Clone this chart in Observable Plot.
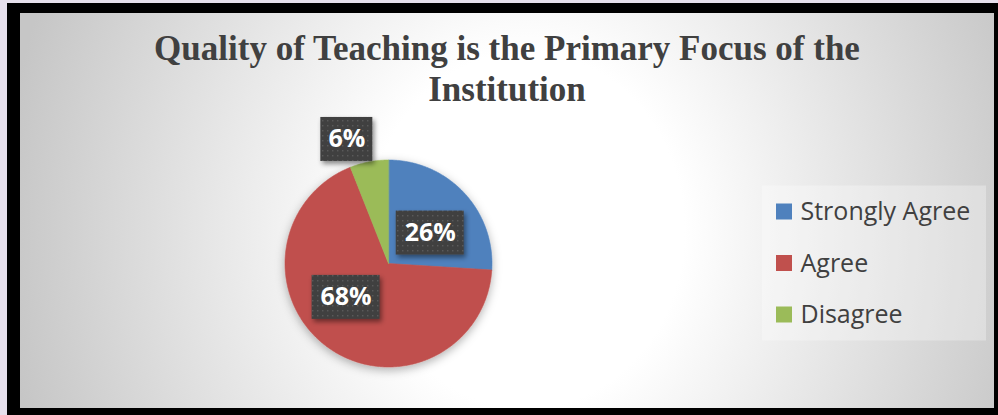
<!DOCTYPE html>
<html>
<head>
<meta charset="utf-8">
<script src="https://cdn.jsdelivr.net/npm/d3@7"></script>
<script src="https://cdn.jsdelivr.net/npm/@observablehq/plot@0.6"></script>
<style>
  html, body { margin: 0; padding: 0; width: 998px; height: 415px; overflow: hidden; background: #e6e0ec; }
  #frame { position: absolute; left: 7px; top: 3px; width: 991px; height: 412px; background: #000; }
  #inner { position: absolute; left: 20px; top: 13px; width: 974px; height: 395px;
    background: radial-gradient(ellipse 54% 150% at 52% 55%, #ffffff 0%, #ffffff 30%, #c6c6c6 100%); }
  #title { height: 80px; padding-top: 15px; font-family: "Liberation Serif", "Times New Roman", serif; font-weight: bold;
    font-size: 35px; line-height: 41px; color: #404040; text-align: center; white-space: nowrap; }
  #chart svg { display: block; }
</style>
</head>
<body>
<div id="frame"></div>
<div id="inner">
  <div id="title">Quality of Teaching is the Primary Focus of the<br>Institution</div>
  <div id="chart"></div>
</div>
<script>
// ---- data ----
const categories = ["Strongly Agree", "Agree", "Disagree"];
const values = [26, 68, 6];
const colors = ["#4f81bd", "#c0504d", "#9bbb59"];

// ---- layout ----
const W = 974, H = 300;
const cx = 368, cy = 155, R = 103.5;
const legendX = 756, legendRowGap = 51.5, legendSquare = 16;

const data = categories.map((c, i) => ({cat: c, value: values[i]}));
const arcs = d3.pie().sort(null).value(d => d.value)(data);

// polygon outline for each slice (geometry for the wedge shape)
const wedgePts = [];
for (const a of arcs) {
  wedgePts.push({cat: a.data.cat, x: cx, y: cy});
  const n = Math.max(2, Math.ceil((a.endAngle - a.startAngle) / (Math.PI / 360)));
  for (let k = 0; k <= n; k++) {
    const t = a.startAngle + (a.endAngle - a.startAngle) * k / n;
    wedgePts.push({cat: a.data.cat, x: cx + R * Math.sin(t), y: cy - R * Math.cos(t)});
  }
}

// label placement (Office "best fit": small slices go outside)
const placement = [
  {k: 0.5, dx: 4, dy: 5},
  {k: 0.5, dx: -12, dy: -8},
  {k: 1.22, dx: -18, dy: 0}
];
const labels = arcs.map((a, i) => {
  const mid = (a.startAngle + a.endAngle) / 2;
  const p = placement[i];
  const x = cx + p.k * R * Math.sin(mid) + p.dx;
  const y = cy - p.k * R * Math.cos(mid) + p.dy;
  const text = a.data.value + "%";
  const w = 20 + 16 * text.length, h = 44;
  return {x, y, text, x1: x - w / 2, x2: x + w / 2, y1: y - h / 2, y2: y + h / 2};
});

const legend = categories.map((c, i) => {
  const y = cy + (i - (categories.length - 1) / 2) * legendRowGap;
  return {cat: c, y, x1: legendX, x2: legendX + legendSquare, y1: y - legendSquare / 2, y2: y + legendSquare / 2};
});
const legendBox = [{x1: 742, x2: 966, y1: legend[0].y - 26, y2: legend[legend.length - 1].y + 26}];

const plot = Plot.plot({
  width: W, height: H,
  margin: 0,
  x: {domain: [0, W], range: [0, W], axis: null},
  y: {domain: [0, H], range: [0, H], axis: null},
  color: {domain: categories, range: colors},
  style: {background: "transparent", overflow: "visible"},
  marks: [
    Plot.line(wedgePts, {x: "x", y: "y", z: "cat", fill: "cat", stroke: "cat", strokeWidth: 0.6, curve: "linear-closed"}),
    Plot.rect(labels, {x1: "x1", x2: "x2", y1: "y1", y2: "y2", fill: "url(#dots)"}),
    Plot.text(labels, {x: "x", y: "y", text: "text", fill: "white", fontWeight: "bold", fontSize: 25,
      fontFamily: "Open Sans"}),
    Plot.rect(legendBox, {x1: "x1", x2: "x2", y1: "y1", y2: "y2", fill: "white", fillOpacity: 0.3}),
    Plot.rect(legend, {x1: "x1", x2: "x2", y1: "y1", y2: "y2", fill: "cat"}),
    Plot.text(legend, {x: legendX + legendSquare + 8, y: "y", text: "cat", textAnchor: "start", fill: "#404040",
      fontSize: 25, fontFamily: "Open Sans"})
  ]
});

document.getElementById("chart").appendChild(plot);

// defs: dotted pattern and shadows
const svg = d3.select(plot);
const defs = svg.insert("defs", ":first-child");
const pat = defs.append("pattern").attr("id", "dots").attr("patternUnits", "userSpaceOnUse")
  .attr("width", 5).attr("height", 5);
pat.append("rect").attr("width", 5).attr("height", 5).attr("fill", "#404040");
pat.append("rect").attr("x", 2).attr("y", 2).attr("width", 1.4).attr("height", 1.4).attr("fill", "#5a5a5a");
defs.append("filter").attr("id", "boxShadow").attr("x", "-30%").attr("y", "-30%").attr("width", "160%").attr("height", "160%")
  .append("feDropShadow").attr("dx", 2).attr("dy", 3).attr("stdDeviation", 2.5)
  .attr("flood-color", "#000").attr("flood-opacity", 0.45);
defs.append("filter").attr("id", "pieShadow").attr("x", "-20%").attr("y", "-20%").attr("width", "140%").attr("height", "140%")
  .append("feDropShadow").attr("dx", 0).attr("dy", 3).attr("stdDeviation", 5)
  .attr("flood-color", "#000").attr("flood-opacity", 0.3);

svg.select("g[aria-label=line]").attr("filter", "url(#pieShadow)");
const rects = svg.selectAll("g[aria-label=rect]").nodes();
d3.select(rects[0]).attr("filter", "url(#boxShadow)");
</script>
</body>
</html>
